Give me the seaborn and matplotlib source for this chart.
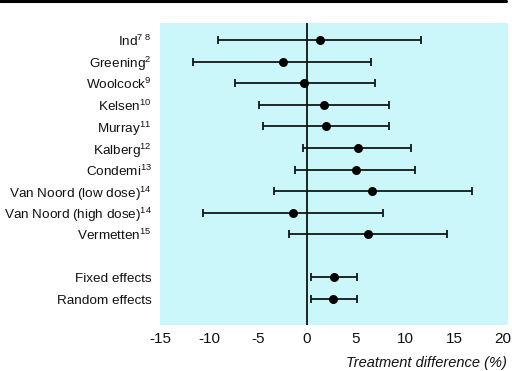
import matplotlib
matplotlib.use("Agg")
import matplotlib.pyplot as plt
import seaborn as sns
import pandas as pd
import numpy as np
from matplotlib.lines import Line2D

studies = ["Ind$^{7\\ 8}$", "Greening$^{2}$", "Woolcock$^{9}$", "Kelsen$^{10}$",
           "Murray$^{11}$", "Kalberg$^{12}$", "Condemi$^{13}$",
           "Van Noord (low dose)$^{14}$", "Van Noord (high dose)$^{14}$",
           "Vermetten$^{15}$", "Fixed effects", "Random effects"]
row_pos = [0, 1, 2, 3, 4, 5, 6, 7, 8, 9, 11, 12]
estimate = [1.3, -2.45, -0.3, 1.7, 1.95, 5.15, 4.95, 6.6, -1.45, 6.25, 2.75, 2.65]
ci_low = [-9.1, -11.6, -7.4, -4.9, -4.5, -0.45, -1.25, -3.4, -10.6, -1.85, 0.4, 0.4]
ci_high = [11.65, 6.55, 6.9, 8.4, 8.4, 10.6, 11.0, 16.8, 7.7, 14.3, 5.1, 5.1]
x_ticks = [-15, -10, -5, 0, 5, 10, 15, 20]

sns.set_theme(style="white")
plt.rcParams["font.family"] = ["Liberation Sans", "DejaVu Sans"]
plt.rcParams["mathtext.fontset"] = "custom"
plt.rcParams["mathtext.rm"] = "Liberation Sans"
plt.rcParams["mathtext.it"] = "Liberation Sans:italic"

df = pd.DataFrame({"study": studies, "pos": row_pos, "est": estimate,
                   "lo": ci_low, "hi": ci_high})

fig = plt.figure(figsize=(5.12, 3.71), dpi=100)
ax = fig.add_axes([160/512, 1-325/371, (508-160)/512, (325-22.7)/371])
ax.set_facecolor("#ccf7fa")
for s in ax.spines.values():
    s.set_visible(False)

ax.axvline(0, color="black", lw=1.2, zorder=1)
est = np.array(df["est"]); lo = np.array(df["lo"]); hi = np.array(df["hi"])
ax.errorbar(x=est, y=df["pos"], xerr=[est - lo, hi - est], fmt="none",
            ecolor="#101818", elinewidth=1.3, capsize=3.0, capthick=1.3, zorder=2)
sns.scatterplot(data=df, x="est", y="pos", ax=ax, color="black", s=42,
                edgecolor="black", linewidth=0, zorder=3, legend=False)

ax.set_xlim(-15, 20.5)
ax.set_ylim(13.2, -0.8)
ax.set_xticks(x_ticks)
ax.set_xticklabels([str(t) for t in x_ticks], fontsize=11)
ax.set_yticks(row_pos)
ax.set_yticklabels(studies, fontsize=9.7)
ax.tick_params(axis="both", length=0, pad=5, colors="#111111")
ax.tick_params(axis="y", pad=6)
ax.set_xlabel("")
ax.set_ylabel("")
fig.text(507/512, 1-363/371, "Treatment difference (%)", ha="right", va="center",
         fontsize=10.5, style="italic", color="#111111")

fig.add_artist(Line2D([0, 506/512], [1-1.2/371, 1-1.2/371], color="black", lw=2.2,
                      transform=fig.transFigure))

fig.savefig("out.png", dpi=100)
